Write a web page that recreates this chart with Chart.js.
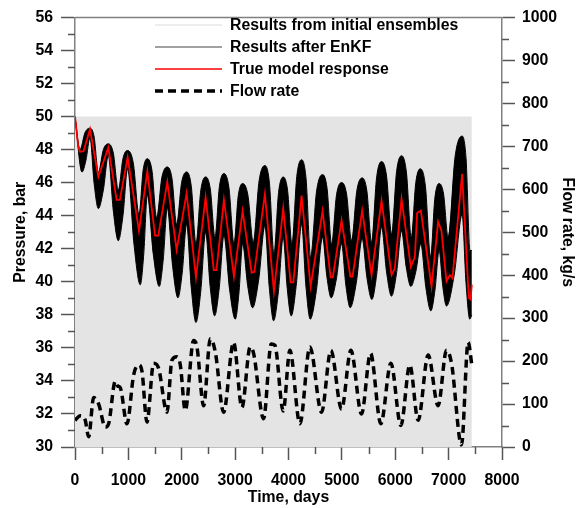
<!DOCTYPE html>
<html><head><meta charset="utf-8">
<script src="https://cdn.jsdelivr.net/npm/chart.js@4/dist/chart.umd.min.js"></script>
<style>html,body{margin:0;padding:0;background:#fff}#wrap{width:578px;height:508px}</style>
</head><body><div id="wrap"><canvas id="c" width="578" height="508"></canvas></div>
<script>
// ---- data ----
const initialTime = [0, 7435];
const initialUpper = [50, 50];

// upper edge of the EnKF ensemble
const upperTime = [0, 94, 188, 281, 359, 437, 531, 624, 718, 811, 899, 986, 1093, 1199, 1277, 1355, 1442, 1529, 1629, 1729, 1817, 1904, 1998, 2091, 2179, 2266, 2357, 2447, 2535, 2622, 2706, 2790, 2884, 2978, 3059, 3140, 3240, 3339, 3449, 3558, 3643, 3727, 3814, 3901, 3983, 4064, 4155, 4245, 4330, 4414, 4526, 4638, 4723, 4807, 4900, 4994, 5088, 5181, 5281, 5380, 5468, 5556, 5650, 5743, 5837, 5931, 6025, 6118, 6209, 6300, 6385, 6470, 6566, 6661, 6742, 6822, 6906, 6990, 7122, 7253, 7327, 7400, 7435];
const upperPressure = [50.0, 48.0, 49.04, 49.3, 48.76, 46.6, 48.0, 48.35, 47.79, 45.55, 47.47, 47.95, 47.17, 44.07, 46.77, 47.45, 46.74, 43.88, 46.34, 46.95, 46.26, 43.48, 46.02, 46.65, 45.78, 42.3, 45.54, 46.35, 45.62, 42.7, 45.78, 46.55, 45.7, 42.3, 45.22, 45.95, 45.24, 42.39, 46.11, 47.04, 45.97, 41.7, 45.41, 46.34, 45.53, 42.29, 46.37, 47.39, 46.21, 41.5, 45.49, 46.49, 45.65, 42.29, 45.27, 46.01, 45.31, 42.49, 45.53, 46.29, 45.51, 42.39, 46.3, 47.28, 46.4, 42.88, 46.68, 47.63, 46.64, 42.69, 46.01, 46.84, 45.77, 41.5, 45.06, 45.95, 45.3, 42.69, 47.6, 48.82, 47.44, 41.9, 41.89];

// lower edge of the EnKF ensemble
const lowerTime = [0, 131, 206, 281, 359, 437, 531, 624, 718, 811, 899, 986, 1105, 1223, 1289, 1355, 1467, 1579, 1654, 1729, 1829, 1929, 2010, 2091, 2179, 2266, 2357, 2447, 2532, 2616, 2703, 2790, 2897, 3003, 3072, 3140, 3234, 3327, 3443, 3558, 3640, 3721, 3811, 3901, 3976, 4051, 4148, 4245, 4326, 4407, 4523, 4638, 4719, 4800, 4897, 4994, 5075, 5156, 5268, 5380, 5471, 5562, 5653, 5743, 5837, 5930, 6024, 6118, 6205, 6292, 6386, 6479, 6573, 6667, 6745, 6822, 6891, 6960, 7107, 7253, 7325, 7397, 7435];
const lowerPressure = [50.0, 46.64, 47.37, 48.72, 45.93, 44.43, 45.55, 47.63, 44.29, 42.49, 44.01, 46.84, 42.28, 39.82, 41.72, 45.26, 41.66, 39.72, 41.38, 44.47, 40.93, 39.03, 40.59, 43.48, 39.62, 37.54, 39.45, 43.0, 39.71, 37.94, 39.64, 42.8, 39.51, 37.74, 39.33, 42.29, 39.78, 38.43, 40.16, 43.38, 39.65, 37.64, 39.41, 42.69, 39.6, 37.94, 39.88, 43.48, 39.75, 37.74, 39.48, 42.7, 40.31, 39.03, 40.17, 42.3, 39.78, 38.43, 39.89, 42.6, 40.21, 38.93, 40.46, 43.3, 40.59, 39.13, 40.51, 43.08, 40.9, 39.72, 40.62, 42.29, 39.66, 38.24, 39.52, 41.89, 39.71, 38.53, 40.47, 44.07, 39.96, 37.74, 38.0];

const trueTime = [0, 60, 94, 160, 281, 437, 624, 780, 840, 986, 1199, 1355, 1500, 1560, 1729, 1904, 2091, 2266, 2447, 2600, 2650, 2790, 2978, 3140, 3310, 3360, 3558, 3727, 3901, 4040, 4090, 4245, 4414, 4638, 4790, 4830, 4994, 5160, 5200, 5380, 5556, 5743, 5931, 5990, 6118, 6292, 6367, 6410, 6479, 6680, 6803, 6866, 6960, 7022, 7072, 7253, 7378, 7410, 7435];
const truePressure = [50.0, 48.2, 47.87, 47.9, 49.23, 46.35, 48.13, 44.96, 44.96, 47.53, 43.08, 46.68, 42.79, 42.79, 46.05, 41.93, 45.36, 40.27, 45.1, 40.71, 40.71, 44.96, 40.31, 44.27, 40.55, 40.6, 45.3, 39.42, 44.43, 39.96, 39.96, 45.22, 39.72, 44.27, 40.27, 40.27, 43.72, 40.31, 40.31, 44.31, 40.41, 44.9, 40.41, 40.8, 45.02, 40.91, 41.5, 44.17, 44.31, 39.72, 43.64, 43.08, 40.02, 40.41, 40.21, 46.54, 39.03, 38.93, 39.82];

const flowTime = [0, 100, 190, 256, 349, 443, 568, 630, 755, 800, 849, 974, 1099, 1193, 1255, 1348, 1473, 1567, 1723, 1816, 1910, 1973, 2066, 2222, 2285, 2410, 2535, 2629, 2784, 2971, 3127, 3283, 3346, 3533, 3677, 3745, 3901, 4026, 4213, 4401, 4619, 4794, 4994, 5169, 5368, 5537, 5730, 5918, 6105, 6273, 6429, 6617, 6803, 6960, 7054, 7241, 7366, 7435];
const flowRate = [62, 73, 63, 24, 115, 100, 46, 54, 153, 142, 138, 54, 168, 191, 176, 58, 195, 183, 81, 202, 210, 191, 85, 248, 233, 96, 252, 221, 81, 244, 92, 233, 218, 66, 240, 237, 84, 225, 54, 233, 81, 225, 88, 225, 77, 218, 54, 195, 50, 191, 62, 214, 96, 225, 195, 5, 244, 191];

const legendLabels = ['Results from initial ensembles', 'Results after EnKF', 'True model response', 'Flow rate'];
const xTitle = 'Time, days';
const yTitle = 'Pressure, bar';
const y1Title = 'Flow rate, kg/s';

// ---- build ----
const pts = (xs, ys) => xs.map((x, i) => ({x, y: ys[i]}));
const FONT = 'Liberation Sans, Arial, sans-serif';
const FS = 15.8;
const bold = {family: FONT, size: FS, weight: 'bold'};
const plain = v => String(v);

const extras = {
  id: 'extras',
  afterDraw(chart) {
    const ctx = chart.ctx, a = chart.chartArea;
    const sx = chart.scales.x, sy = chart.scales.y, sy1 = chart.scales.y1;
    ctx.save();
    ctx.strokeStyle = '#555'; ctx.lineWidth = 1.5;
    ctx.beginPath();
    for (let v = 31; v < 56; v += 2) { const p = Math.round(sy.getPixelForValue(v)) + 0.5; ctx.moveTo(a.left - 7, p); ctx.lineTo(a.left, p); }
    for (let v = 50; v < 1000; v += 100) { const p = Math.round(sy1.getPixelForValue(v)) + 0.5; ctx.moveTo(a.right, p); ctx.lineTo(a.right + 7, p); }
    for (let v = 500; v < 8000; v += 1000) { const p = Math.round(sx.getPixelForValue(v)) + 0.5; ctx.moveTo(p, a.bottom); ctx.lineTo(p, a.bottom + 7); }
    ctx.stroke();
    ctx.strokeStyle = '#808080'; ctx.lineWidth = 1.5;
    ctx.beginPath(); ctx.moveTo(a.left, a.top); ctx.lineTo(a.right, a.top); ctx.stroke();
    // legend
    const rows = [25, 47, 69, 91];
    const styles = [
      {c: '#dcdcdc', w: 1, d: []},
      {c: '#444', w: 1.2, d: []},
      {c: '#ff0000', w: 1.5, d: []},
      {c: '#000', w: 3.5, d: [8, 5]}
    ];
    ctx.font = 'bold ' + FS + 'px ' + FONT;
    ctx.textBaseline = 'middle';
    ctx.fillStyle = '#000';
    rows.forEach((y, i) => {
      const s = styles[i];
      ctx.beginPath(); ctx.strokeStyle = s.c; ctx.lineWidth = s.w; ctx.setLineDash(s.d);
      ctx.moveTo(155, y); ctx.lineTo(222, y); ctx.stroke();
      ctx.setLineDash([]);
      ctx.fillText(legendLabels[i], 230, y + 1);
    });
    ctx.restore();
  }
};

new Chart(document.getElementById('c'), {
  type: 'line',
  data: {
    datasets: [
      {label: legendLabels[0], data: pts(initialTime, initialUpper), yAxisID: 'y', fill: {value: 30},
       backgroundColor: '#e4e4e4', borderWidth: 0, pointRadius: 0, order: 10},
      {label: legendLabels[1], data: pts(upperTime, upperPressure), yAxisID: 'y', fill: '+1',
       backgroundColor: '#000', borderColor: '#000', borderWidth: 1, pointRadius: 0, cubicInterpolationMode: 'monotone', order: 5},
      {label: 'lower', data: pts(lowerTime, lowerPressure), yAxisID: 'y', fill: false,
       borderColor: '#000', borderWidth: 1, pointRadius: 0, cubicInterpolationMode: 'monotone', order: 5},
      {label: legendLabels[2], data: pts(trueTime, truePressure), yAxisID: 'y', fill: false,
       borderColor: '#ff0000', borderWidth: 1.8, pointRadius: 0, tension: 0, order: 2},
      {label: legendLabels[3], data: pts(flowTime, flowRate), yAxisID: 'y1', fill: false,
       borderColor: '#000', borderWidth: 3.5, borderDash: [8, 5], pointRadius: 0, cubicInterpolationMode: 'monotone', order: 1}
    ]
  },
  options: {
    responsive: false, animation: false,
    layout: {padding: {top: 9, left: 0, right: 0, bottom: 0}},
    plugins: {legend: {display: false}, tooltip: {enabled: false}},
    scales: {
      x: {type: 'linear', position: 'bottom', min: 0, max: 8000,
        ticks: {stepSize: 1000, font: bold, color: '#000', padding: 11, maxRotation: 0, callback: plain},
        grid: {drawOnChartArea: false, tickLength: 13, tickColor: '#555', tickWidth: 1.5},
        border: {display: true, color: '#808080', width: 1.5},
        title: {display: true, text: xTitle, font: bold, color: '#000', padding: {top: 0, bottom: 0.5}},
        afterFit: s => { s.height = 61; }},
      y: {type: 'linear', position: 'left', min: 30, max: 56,
        ticks: {stepSize: 2, font: bold, color: '#000', padding: 8, callback: plain},
        grid: {drawOnChartArea: false, tickLength: 14, tickColor: '#555', tickWidth: 1.5},
        border: {display: true, color: '#808080', width: 1.5},
        title: {display: true, text: yTitle, font: bold, color: '#000', padding: {top: 11.5, bottom: 0}},
        afterFit: s => { s.width = 75; }},
      y1: {type: 'linear', position: 'right', min: 0, max: 1000,
        ticks: {stepSize: 100, font: bold, color: '#000', padding: 7, callback: plain},
        grid: {drawOnChartArea: false, tickLength: 13, tickColor: '#555', tickWidth: 1.5},
        border: {display: true, color: '#808080', width: 1.5},
        title: {display: true, text: y1Title, font: bold, color: '#000', padding: {top: 1.5, bottom: 0}},
        afterFit: s => { s.width = 76; }}
    }
  },
  plugins: [extras]
});
</script></body></html>
